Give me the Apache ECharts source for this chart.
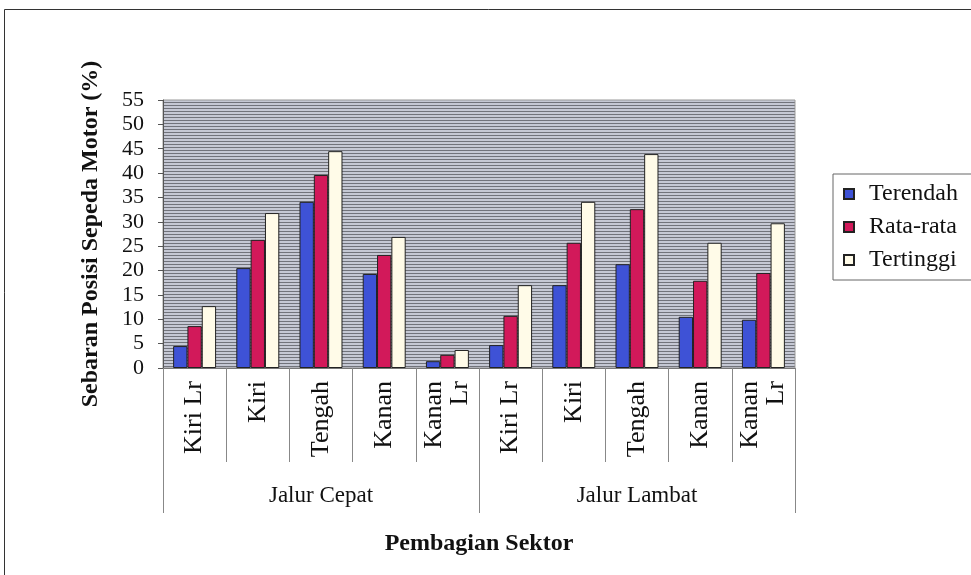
<!DOCTYPE html>
<html>
<head>
<meta charset="utf-8">
<script src="https://cdn.jsdelivr.net/npm/echarts@6/dist/echarts.min.js"></script>
<style>
  html, body { margin: 0; padding: 0; background: #fff; }
  #chart { width: 971px; height: 575px; }
</style>
</head>
<body>
<div id="chart"></div>
<script>
// data
const sectors = ["Kiri Lr", "Kiri", "Tengah", "Kanan", "Kanan\nLr",
                 "Kiri Lr", "Kiri", "Tengah", "Kanan", "Kanan\nLr"];
const groups = ["Jalur Cepat", "Jalur Lambat"];
const terendah = [4.5, 20.5, 34.1, 19.3, 1.4, 4.7, 17.0, 21.3, 10.5, 9.9];
const rataRata = [8.6, 26.3, 39.6, 23.2, 2.7, 10.7, 25.7, 32.6, 17.9, 19.5];
const tertinggi = [12.7, 31.8, 44.5, 26.9, 3.7, 17.0, 34.1, 43.9, 25.7, 29.7];
const yTicks = [0, 55, 5];

const font = "Liberation Serif";

// hatched grey background of the plot area
function hatch() {
  const c = document.createElement("canvas");
  c.width = 8;
  c.height = 3;
  const ctx = c.getContext("2d");
  ctx.fillStyle = "#c5c8d4";
  ctx.fillRect(0, 0, 8, 3);
  ctx.fillStyle = "#71737b";
  ctx.fillRect(0, 0, 8, 1);
  return c;
}

const chart = echarts.init(document.getElementById("chart"));
const barBorder = { borderColor: "#222", borderWidth: 1 };

chart.setOption({
  animation: false,
  textStyle: { fontFamily: font },
  graphic: [
    {
      type: "rect",
      shape: { x: 4.5, y: 9.5, width: 1000, height: 1000 },
      style: { fill: "none", stroke: "#333", lineWidth: 1 },
    },
  ],
  grid: {
    left: 163,
    right: 176,
    top: 100,
    bottom: 207,
    show: true,
    backgroundColor: { image: hatch(), repeat: "repeat" },
    borderColor: "#999",
    borderWidth: 1,
  },
  legend: {
    orient: "vertical",
    left: 833,
    top: 174,
    padding: [8, 20, 8, 10],
    itemGap: 9,
    itemWidth: 10,
    itemHeight: 10,
    icon: "rect",
    borderColor: "#666",
    borderWidth: 1,
    textStyle: { fontFamily: font, fontSize: 24, color: "#111", padding: [0, 0, 0, 10] },
    data: ["Terendah", "Rata-rata", "Tertinggi"],
  },
  xAxis: [
    {
      type: "category",
      data: sectors,
      position: "bottom",
      axisLine: { lineStyle: { color: "#777" } },
      axisTick: { show: true, length: 94, lineStyle: { color: "#888" } },
      axisLabel: {
        rotate: 90,
        margin: 13,
        fontFamily: font,
        fontSize: 26,
        lineHeight: 26,
        color: "#111",
      },
    },
    {
      type: "category",
      data: groups,
      position: "bottom",
      axisLine: { show: false },
      axisTick: { show: true, length: 145, lineStyle: { color: "#888" } },
      axisLabel: { margin: 116, fontFamily: font, fontSize: 23, color: "#111" },
      name: "Pembagian Sektor",
      nameLocation: "middle",
      nameGap: 164,
      nameTextStyle: { fontFamily: font, fontSize: 24, fontWeight: "bold", color: "#111" },
    },
  ],
  yAxis: {
    type: "value",
    min: yTicks[0],
    max: yTicks[1],
    interval: yTicks[2],
    name: "Sebaran Posisi Sepeda Motor (%)",
    nameLocation: "middle",
    nameGap: 60,
    nameTextStyle: { fontFamily: font, fontSize: 24, fontWeight: "bold", color: "#111" },
    axisLine: { show: true, lineStyle: { color: "#555" } },
    axisTick: { show: true, length: 5, lineStyle: { color: "#555" } },
    axisLabel: { margin: 19, fontFamily: font, fontSize: 22, color: "#111" },
    splitLine: { show: false },
  },
  series: [
    {
      name: "Terendah",
      type: "bar",
      data: terendah,
      barGap: "0%",
      barCategoryGap: "32%",
      itemStyle: Object.assign({ color: "#3e52d6" }, barBorder),
    },
    {
      name: "Rata-rata",
      type: "bar",
      data: rataRata,
      itemStyle: Object.assign({ color: "#d2195a" }, barBorder),
    },
    {
      name: "Tertinggi",
      type: "bar",
      data: tertinggi,
      itemStyle: Object.assign({ color: "#fffbe8" }, barBorder),
    },
  ],
});
</script>
</body>
</html>
